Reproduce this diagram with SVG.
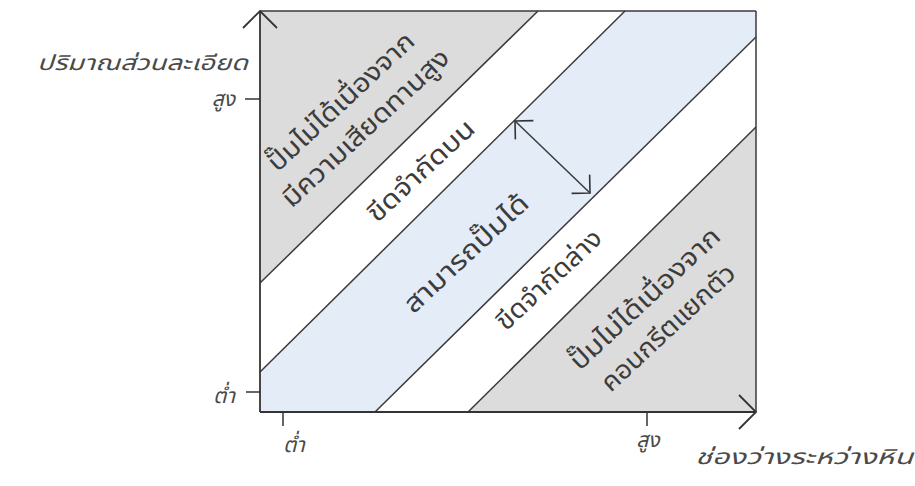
<svg xmlns="http://www.w3.org/2000/svg" width="915" height="486" viewBox="0 0 915 486">
<style>
  .bg { fill: #ffffff; }
  .gray { fill: #dcdcdc; stroke: none; }
  .blue { fill: #e4ecf8; stroke: none; }
  .edge { fill: none; stroke: #3a3a3a; stroke-width: 1.5; }
  .axis { fill: none; stroke: #333333; stroke-width: 1.8; }
  .tick { fill: none; stroke: #333333; stroke-width: 1.5; }
  .lbl { font-family: "Noto Sans Thai", "Noto Sans", "DejaVu Sans", sans-serif; font-size: 26px; fill: #3c3c3c; text-anchor: middle; }
  .ax { font-family: "Noto Sans Thai", "Noto Sans", "DejaVu Sans", sans-serif; font-size: 21px; font-style: italic; fill: #4a4a4a; }
</style>
<defs>
  <marker id="axisArrow" markerUnits="userSpaceOnUse" viewBox="-20 -20 24 40" markerWidth="24" markerHeight="40" refX="0" refY="0" orient="auto">
    <path d="M-17,-17 L0,0 L-17,17" fill="none" stroke="#333333" stroke-width="1.8"/>
  </marker>
  <marker id="dimArrow" markerUnits="userSpaceOnUse" viewBox="-16 -16 20 32" markerWidth="20" markerHeight="32" refX="0" refY="0" orient="auto-start-reverse">
    <path d="M-13,-13 L0,0 L-13,13" fill="none" stroke="#333333" stroke-width="1.6"/>
  </marker>
</defs>
<rect class="bg" x="0" y="0" width="915" height="486"/>

<g id="zone-friction">
  <polygon class="gray" points="260,11 538,11 260,283"/>
  <g transform="translate(347,108) rotate(-43)">
    <text class="lbl" x="0" y="0" textLength="190" lengthAdjust="spacingAndGlyphs">ปั๊มไม่ได้เนื่องจาก</text>
    <text class="lbl" x="0" y="36" textLength="218" lengthAdjust="spacingAndGlyphs">มีความเสียดทานสูง</text>
  </g>
</g>

<g id="zone-pumpable">
  <polygon class="blue" points="625,11 756,11 756,37 375,412 260,412 260,372"/>
  <text class="lbl" transform="translate(472,260) rotate(-43)" textLength="160" lengthAdjust="spacingAndGlyphs">สามารถปั๊มได้</text>
</g>

<g id="zone-segregation">
  <polygon class="gray" points="468,412 756,127 756,412"/>
  <g transform="translate(651,305) rotate(-43)">
    <text class="lbl" x="0" y="0" textLength="195" lengthAdjust="spacingAndGlyphs">ปั๊มไม่ได้เนื่องจาก</text>
    <text class="lbl" x="-3" y="37" textLength="173" lengthAdjust="spacingAndGlyphs">คอนกรีตแยกตัว</text>
  </g>
</g>

<g id="upper-limit">
  <text class="lbl" transform="translate(427,177) rotate(-43)" textLength="136" lengthAdjust="spacingAndGlyphs">ขีดจำกัดบน</text>
</g>

<g id="lower-limit">
  <text class="lbl" transform="translate(555,286) rotate(-43)" textLength="134" lengthAdjust="spacingAndGlyphs">ขีดจำกัดล่าง</text>
</g>

<g id="connectors">
  <line class="edge" x1="260" y1="283" x2="538" y2="11"/>
  <line class="edge" x1="260" y1="372" x2="625" y2="11"/>
  <line class="edge" x1="375" y1="412" x2="756" y2="37"/>
  <line class="edge" x1="468" y1="412" x2="756" y2="127"/>
  <line class="edge" x1="260" y1="11" x2="756" y2="11"/>
  <line class="edge" x1="756" y1="11" x2="756" y2="412"/>
  <line class="axis" x1="260" y1="412" x2="260" y2="11" marker-end="url(#axisArrow)"/>
  <line class="axis" x1="260" y1="412" x2="756" y2="412" marker-end="url(#axisArrow)"/>
  <line class="tick" x1="245" y1="99" x2="260" y2="99"/>
  <line class="tick" x1="246" y1="392" x2="260" y2="392"/>
  <line class="tick" x1="283" y1="412" x2="283" y2="426"/>
  <line class="tick" x1="647" y1="412" x2="647" y2="426"/>
  <line class="edge" x1="515" y1="121" x2="590" y2="193" marker-start="url(#dimArrow)" marker-end="url(#dimArrow)"/>
</g>

<g id="axis-labels">
  <text class="ax" x="37" y="70" textLength="211" lengthAdjust="spacingAndGlyphs">ปริมาณส่วนละเอียด</text>
  <text class="ax" x="235" y="106" text-anchor="end">สูง</text>
  <text class="ax" x="235" y="403" text-anchor="end">ต่ำ</text>
  <text class="ax" x="283" y="452">ต่ำ</text>
  <text class="ax" x="648" y="447" text-anchor="middle">สูง</text>
  <text class="ax" x="913" y="464" text-anchor="end" textLength="218" lengthAdjust="spacingAndGlyphs">ช่องว่างระหว่างหิน</text>
</g>
</svg>
